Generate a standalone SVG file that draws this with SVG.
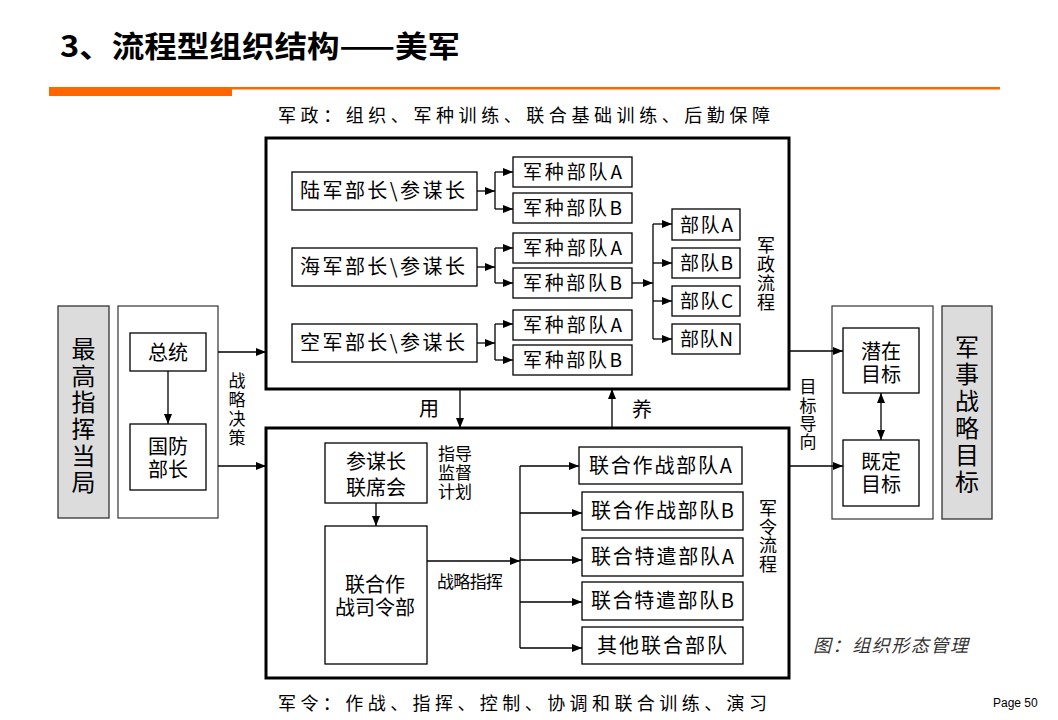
<svg xmlns="http://www.w3.org/2000/svg" width="1058" height="720" viewBox="0 0 1058 720">
<defs>
<marker id="ah" markerUnits="userSpaceOnUse" markerWidth="10" markerHeight="8" refX="10" refY="4" orient="auto">
<path d="M0,0 L10,4 L0,8 z" fill="#000"/>
</marker>
<marker id="ahs" markerUnits="userSpaceOnUse" markerWidth="10" markerHeight="8" refX="0" refY="4" orient="auto">
<path d="M10,0 L0,4 L10,8 z" fill="#000"/>
</marker>
</defs>
<style>
.t{font-family:"Noto Sans CJK SC","Liberation Sans",sans-serif;fill:#000}
.v{writing-mode:vertical-rl}
.box{fill:#fff;stroke:#000;stroke-width:1.3}
.big{fill:none;stroke:#000;stroke-width:3}
.gray{fill:#dcdcdc;stroke:#333;stroke-width:1.3}
.outer{fill:#fff;stroke:#333;stroke-width:1.2}
.ln{stroke:#000;stroke-width:1.3;fill:none}
.ar{stroke:#000;stroke-width:1.3;fill:none;marker-end:url(#ah)}
.f20{font-size:20px}
.f19{font-size:19px}
.f18{font-size:18px}
.f17{font-size:17px}
.f24{font-size:24px}
.m{text-anchor:middle}
</style>
<rect width="1058" height="720" fill="#fff"/>

<g id="title">
<text class="t" x="60" y="57" font-size="30" font-weight="700" textLength="400" lengthAdjust="spacingAndGlyphs">3、流程型组织结构——美军</text>
<rect x="49" y="87" width="951" height="2.5" fill="#ff6600"/>
<rect x="49" y="88" width="183" height="8" fill="#ff6600"/>
</g>

<g id="labels">
<text class="t f18" x="278" y="122" textLength="492" lengthAdjust="spacing">军政：组织、军种训练、联合基础训练、后勤保障</text>
<text class="t f18" x="278" y="710" textLength="489" lengthAdjust="spacing">军令：作战、指挥、控制、协调和联合训练、演习</text>
<text class="t f18" x="813" y="652" textLength="155" lengthAdjust="spacing" font-style="italic" style="fill:#333">图：组织形态管理</text>
<text x="993" y="707" font-family="Liberation Sans, Arial, sans-serif" font-size="12" fill="#000">Page 50</text>
<text class="t f20 m" x="429" y="416">用</text>
<text class="t f20 m" x="642" y="417">养</text>
<text class="t f17 v" x="237" y="372.5" style="letter-spacing:1.7px">战略决策</text>
<text class="t f17 v" x="808" y="378.5" style="letter-spacing:1.3px">目标导向</text>
<text class="t f18 v" x="766" y="236" style="letter-spacing:1px">军政流程</text>
<text class="t f18 v" x="768" y="499" style="letter-spacing:0.7px">军令流程</text>
<text class="t f17"><tspan x="438" y="460">指导</tspan><tspan x="438" dy="19">监督</tspan><tspan x="438" dy="19">计划</tspan></text>
<text class="t f17" x="437" y="588" textLength="66" lengthAdjust="spacing">战略指挥</text>
</g>

<g id="army-politics-box"><rect class="big" x="266" y="138" width="523" height="251"/></g>
<g id="army-command-box"><rect class="big" x="266" y="428" width="523" height="250"/></g>

<g id="supreme-authority">
<rect class="gray" x="58" y="306" width="51" height="212"/>
<text class="t f24 v" x="83.5" y="337" style="letter-spacing:2.6px">最高指挥当局</text>
</g>
<g id="left-frame"><rect class="outer" x="118" y="306" width="100" height="212"/></g>
<g id="president"><rect class="box" x="130" y="333" width="76" height="38"/><text class="t f20 m" x="168" y="360">总统</text></g>
<g id="defense-secretary"><rect class="box" x="130" y="424" width="76" height="66"/><text class="t f20 m"><tspan x="168" y="454">国防</tspan><tspan x="168" dy="23">部长</tspan></text></g>

<g id="army-chief"><rect class="box" x="292" y="172" width="185" height="38"/><text class="t f20" x="300" y="198" textLength="165" lengthAdjust="spacing">陆军部长\参谋长</text></g>
<g id="navy-chief"><rect class="box" x="292" y="248" width="185" height="38"/><text class="t f20" x="300" y="274" textLength="165" lengthAdjust="spacing">海军部长\参谋长</text></g>
<g id="airforce-chief"><rect class="box" x="292" y="324" width="185" height="38"/><text class="t f20" x="300" y="350" textLength="165" lengthAdjust="spacing">空军部长\参谋长</text></g>

<g id="service-units" class="t f19">
<g id="army-a"><rect class="box" x="513" y="157" width="119" height="30"/><text x="523" y="179" textLength="99" lengthAdjust="spacing">军种部队A</text></g>
<g id="army-b"><rect class="box" x="513" y="193" width="119" height="30"/><text x="523" y="215" textLength="99" lengthAdjust="spacing">军种部队B</text></g>
<g id="navy-a"><rect class="box" x="513" y="233" width="119" height="30"/><text x="523" y="255" textLength="99" lengthAdjust="spacing">军种部队A</text></g>
<g id="navy-b"><rect class="box" x="513" y="268" width="119" height="30"/><text x="523" y="290" textLength="99" lengthAdjust="spacing">军种部队B</text></g>
<g id="air-a"><rect class="box" x="513" y="310" width="119" height="30"/><text x="523" y="332" textLength="99" lengthAdjust="spacing">军种部队A</text></g>
<g id="air-b"><rect class="box" x="513" y="345" width="119" height="30"/><text x="523" y="367" textLength="99" lengthAdjust="spacing">军种部队B</text></g>
</g>
<g id="units" class="t f19">
<g id="unit-a"><rect class="box" x="672" y="209" width="68" height="31"/><text x="680" y="232" textLength="53" lengthAdjust="spacing">部队A</text></g>
<g id="unit-b"><rect class="box" x="672" y="248" width="68" height="30"/><text x="680" y="270" textLength="53" lengthAdjust="spacing">部队B</text></g>
<g id="unit-c"><rect class="box" x="672" y="286" width="68" height="30"/><text x="680" y="308" textLength="53" lengthAdjust="spacing">部队C</text></g>
<g id="unit-n"><rect class="box" x="672" y="324" width="68" height="30"/><text x="680" y="346" textLength="53" lengthAdjust="spacing">部队N</text></g>
</g>

<g id="jcs"><rect class="box" x="325" y="443" width="102" height="60"/><text class="t f20 m"><tspan x="376" y="469">参谋长</tspan><tspan x="376" dy="26">联席会</tspan></text></g>
<g id="combatant-command"><rect class="box" x="325" y="526" width="102" height="138"/><text class="t f20 m"><tspan x="375" y="592">联合作</tspan><tspan x="375" dy="23">战司令部</tspan></text></g>

<g id="joint-units" class="t f20">
<g id="joint-a"><rect class="box" x="579" y="447" width="163" height="37"/><text x="589" y="473" textLength="143" lengthAdjust="spacing">联合作战部队A</text></g>
<g id="joint-b"><rect class="box" x="582" y="492" width="161" height="38"/><text x="591" y="518" textLength="143" lengthAdjust="spacing">联合作战部队B</text></g>
<g id="special-a"><rect class="box" x="582" y="538" width="161" height="38"/><text x="591" y="564" textLength="143" lengthAdjust="spacing">联合特遣部队A</text></g>
<g id="special-b"><rect class="box" x="582" y="582" width="161" height="38"/><text x="591" y="608" textLength="143" lengthAdjust="spacing">联合特遣部队B</text></g>
<g id="other-joint"><rect class="box" x="582" y="627" width="161" height="37"/><text x="597" y="653" textLength="130" lengthAdjust="spacing">其他联合部队</text></g>
</g>

<g id="right-frame"><rect class="outer" x="832" y="306" width="101" height="213"/></g>
<g id="potential-target"><rect class="box" x="843" y="328" width="76" height="65"/><text class="t f20 m"><tspan x="881" y="359">潜在</tspan><tspan x="881" dy="23">目标</tspan></text></g>
<g id="set-target"><rect class="box" x="843" y="440" width="76" height="66"/><text class="t f20 m"><tspan x="881" y="469">既定</tspan><tspan x="881" dy="23">目标</tspan></text></g>
<g id="strategic-goal">
<rect class="gray" x="942" y="306" width="50" height="213"/>
<text class="t f24 v" x="967" y="335" style="letter-spacing:3px">军事战略目标</text>
</g>

<g id="connectors">
<path class="ar" d="M168,371 V424"/>
<path class="ar" d="M218,352 H266"/>
<path class="ar" d="M218,466 H266"/>
<path class="ar" d="M789,351 H843"/>
<path class="ar" d="M789,466 H843"/>
<path class="ln" d="M881,393 V440" marker-start="url(#ahs)" marker-end="url(#ah)"/>
<path class="ar" d="M460,389 V428"/>
<path class="ar" d="M612,428 V389"/>
<path class="ar" d="M477,191 H495"/>
<path class="ln" d="M495,172 V209"/>
<path class="ar" d="M495,172 H513"/>
<path class="ar" d="M495,209 H513"/>
<path class="ar" d="M477,267 H495"/>
<path class="ln" d="M495,248 V283"/>
<path class="ar" d="M495,248 H513"/>
<path class="ar" d="M495,283 H513"/>
<path class="ar" d="M477,343 H495"/>
<path class="ln" d="M495,324 V360"/>
<path class="ar" d="M495,324 H513"/>
<path class="ar" d="M495,360 H513"/>
<path class="ar" d="M632,283 H653"/>
<path class="ln" d="M653,224 V339"/>
<path class="ar" d="M653,224 H672"/>
<path class="ar" d="M653,263 H672"/>
<path class="ar" d="M653,301 H672"/>
<path class="ar" d="M653,339 H672"/>
<path class="ar" d="M376,503 V526"/>
<path class="ar" d="M427,561 H520"/>
<path class="ln" d="M520,466 V648"/>
<path class="ar" d="M520,466 H579"/>
<path class="ar" d="M520,513 H582"/>
<path class="ar" d="M520,560 H582"/>
<path class="ar" d="M520,602 H582"/>
<path class="ar" d="M520,648 H582"/>
</g>
</svg>
